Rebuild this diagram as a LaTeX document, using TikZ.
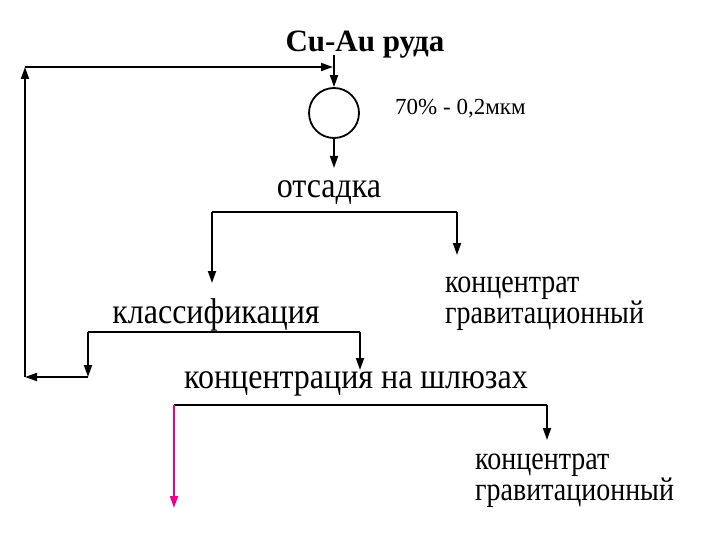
\documentclass[tikz,border=0pt]{standalone}
\usepackage{fontspec}
\setmainfont{Liberation Serif}
\usetikzlibrary{arrows.meta}
\newcommand{\stretchtxt}[1]{\scalebox{1}[1.12]{#1}}
\newcommand{\stretchconc}[1]{\scalebox{1}[1.18]{#1}}
\tikzset{
  flow/.style={line width=1.8pt,-{Triangle[length=12pt,width=8pt]}},
  line/.style={line width=1.8pt},
  txt/.style={inner sep=0pt,anchor=base,font=\fontsize{32}{36}\selectfont},
  conc/.style={inner sep=0pt,anchor=base west,align=left,font=\fontsize{28}{31}\selectfont,
    execute at begin node={\lineskiplimit=-50pt\relax}},
  small/.style={inner sep=0pt,anchor=base west,font=\fontsize{23}{25}\selectfont},
}
\begin{document}
\begin{tikzpicture}[x=1pt,y=-1pt]
\useasboundingbox (0,0) rectangle (720,540);
\node[inner sep=0pt,anchor=base,font=\bfseries\fontsize{31}{34}\selectfont] (ore) at (365,52) {Cu-Au руда};
\node[draw,circle,line width=1.8pt,minimum size=50pt,inner sep=0pt] (mill) at (334,113) {};
\node[small] (size) at (395,115) {70\% - 0,2мкм};
\node[txt] (jig) at (329,197) {\stretchtxt{отсадка}};
% base anchor of a two-line node is the baseline of its last line
\node[conc] (conc1) at (445,323) {\stretchconc{концентрат}\\ \stretchconc{гравитационный}};
\node[txt] (cls) at (216,323) {\stretchtxt{классификация}};
\node[txt] (sluice) at (356,388) {\stretchtxt{концентрация на шлюзах}};
\node[conc] (conc2) at (475,500) {\stretchconc{концентрат}\\ \stretchconc{гравитационный}};

\coordinate (in) at (334,55);
\coordinate (tl) at (25,67);
\coordinate (tr) at (334,67);
\coordinate (bl) at (25,377);
\coordinate (jo) at (334,168);
\coordinate (j1) at (212,212);
\coordinate (j2) at (457,212);
\coordinate (c1) at (88,332);
\coordinate (c2) at (360,332);
\coordinate (s1) at (174,405);
\coordinate (s2) at (547,405);

\draw[flow] (in) -- (mill.north);
\draw[flow] (mill.south) -- (jo);
\draw[flow] (j1) -- ++(0,71);
\draw[line] (j1) -- (j2);
\draw[flow] (j2) -- ++(0,43);
\draw[line] (c1) -- (c2);
\draw[flow] (c1) -- ++(0,45);
\draw[flow] (c2) -- ++(0,38);
\draw[flow] (c1 |- bl) -- (bl);
\draw[flow] (bl) -- (tl);
\draw[flow] (tl) -- ([xshift=-1pt]tr);
\draw[line] (s1) -- (s2);
\draw[flow] (s2) -- ++(0,35);
\draw[flow,magenta] (s1) -- ++(0,103);
\end{tikzpicture}
\end{document}
